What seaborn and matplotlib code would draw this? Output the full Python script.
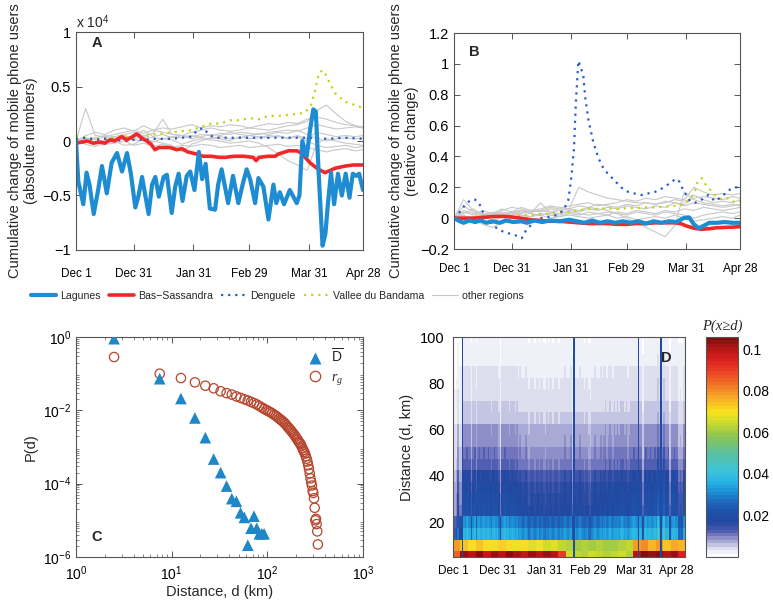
import numpy as np
import matplotlib
matplotlib.use("Agg")
import matplotlib.pyplot as plt
from matplotlib.colors import LinearSegmentedColormap
from matplotlib.lines import Line2D
import seaborn as sns

# ---------------- shared time axis (day 0 = Dec 1) ----------------
tick_days = [0, 30, 61, 90, 121, 149]
tick_names = ["Dec 1", "Dec 31", "Jan 31", "Feb 29", "Mar 31", "Apr 28"]

# ---------------- panel A: absolute change (units of 10^4 users) ----------------
lag_a_days = [0, 1.2, 3.8, 5.5, 7, 9.2, 11.5, 13.5, 16, 18.5, 21.3, 23.9, 26.5, 28.5, 30.8, 32.5,
              34.3, 37.7, 39.5, 41.2, 43, 45.5, 47.2, 49.7, 51.5, 53.3, 55.3, 57.5, 59.3, 61.5,
              63.8, 65.5, 67.3, 69.5, 72.2, 73.8, 75.6, 79, 81.5, 84.3, 86.5, 88.6, 90.4, 93,
              94.7, 97.3, 99.9, 102.5, 104, 105.8, 108, 111, 114.6, 116, 117.5, 119.8, 121.5,
              123.2, 124.5, 126, 128, 129.5, 130.8, 132.4, 134, 136, 138, 140, 142, 143.7, 145.5,
              147, 149]
lag_a_vals = [0.0, -0.37, -0.58, -0.29, -0.4, -0.67, -0.45, -0.23, -0.48, -0.2, -0.11, -0.28, -0.11,
              -0.3, -0.61, -0.5, -0.33, -0.67, -0.4, -0.33, -0.51, -0.33, -0.31, -0.66, -0.42, -0.3,
              -0.55, -0.32, -0.28, -0.45, -0.1, -0.35, -0.21, -0.62, -0.63, -0.4, -0.26, -0.57, -0.32,
              -0.57, -0.4, -0.26, -0.35, -0.57, -0.34, -0.42, -0.72, -0.4, -0.57, -0.47, -0.58, -0.45,
              -0.57, -0.5, 0.0, -0.14, 0.1, 0.29, 0.27, -0.3, -0.96, -0.85, -0.57, -0.29, -0.58, -0.3,
              -0.5, -0.3, -0.52, -0.3, -0.32, -0.3, -0.45]

bas_a_days = [0, 3, 6, 9, 12.5, 15, 17.6, 20, 23.7, 26.3, 28.5, 31.5, 34, 36.7, 39, 41, 43, 46, 48.8,
              52.3, 55, 58, 62.7, 66, 70, 74.6, 77.4, 82, 87, 92, 93.5, 95, 100, 103.4, 105, 110.3,
              114.6, 117, 119, 121.5, 125.8, 129.3, 132, 134.5, 139.7, 144, 149]
bas_a_vals = [-0.02, -0.01, 0.0, -0.02, -0.01, -0.02, 0.01, 0.0, 0.04, 0.01, 0.03, 0.065, 0.03, 0.0,
              -0.03, -0.08, -0.06, -0.06, -0.06, -0.08, -0.07, -0.1, -0.12, -0.14, -0.14, -0.15, -0.15,
              -0.14, -0.14, -0.15, -0.18, -0.15, -0.14, -0.14, -0.12, -0.09, -0.09, -0.11, -0.15, -0.2,
              -0.26, -0.29, -0.27, -0.25, -0.23, -0.22, -0.22]

den_a_days = [0, 5, 10, 15, 20, 25, 30, 35, 40, 45, 50, 55, 60, 63, 66, 69, 72, 80, 90, 100, 110,
              120, 130, 140, 149]
den_a_vals = [0.02, 0.03, 0.01, 0.02, 0.01, 0.0, 0.01, 0.01, 0.02, 0.02, 0.02, 0.03, 0.04, 0.1, 0.12,
              0.06, 0.03, 0.03, 0.03, 0.03, 0.03, 0.03, 0.02, 0.03, 0.02]

val_a_days = [0, 5, 10, 15, 20, 25, 30, 35, 40, 45, 50, 55, 60, 65, 70, 75, 80, 85, 90, 95, 100, 105,
              110, 115, 119, 122, 124, 126, 128, 130, 132, 134.5, 137, 139.7, 143, 146.6, 149]
val_a_vals = [0.05, 0.03, 0.02, 0.03, 0.03, 0.04, 0.03, 0.04, 0.06, 0.07, 0.08, 0.09, 0.1, 0.13, 0.16,
              0.16, 0.19, 0.19, 0.21, 0.2, 0.23, 0.23, 0.24, 0.25, 0.26, 0.33, 0.45, 0.62, 0.65, 0.6,
              0.52, 0.44, 0.4, 0.36, 0.34, 0.32, 0.3]

# other regions, sampled every 5 days
other_days = [0, 5, 10, 15, 20, 25, 30, 35, 40, 45, 50, 55, 60, 65, 70, 75, 80, 85, 90, 95, 100,
              105, 110, 115, 120, 125, 130, 135, 140, 145, 149]
other_a = [
    [0, 0.3, 0.05, 0.04, 0.06, 0.08, 0.1, 0.07, 0.1, 0.08, 0.06, 0.05, 0.08, 0.1, 0.12, 0.1, 0.09,
     0.1, 0.12, 0.11, 0.1, 0.12, 0.14, 0.15, 0.18, 0.28, 0.33, 0.25, 0.18, 0.14, 0.12],
    [0, 0.02, 0.03, 0.05, 0.04, 0.06, 0.08, 0.05, 0.07, 0.2, 0.06, 0.05, 0.04, 0.06, 0.05, 0.07,
     0.06, 0.08, 0.07, 0.06, 0.08, 0.09, 0.1, 0.09, 0.12, 0.15, 0.13, 0.11, 0.12, 0.13, 0.12],
    [0, 0.01, -0.02, 0.0, 0.02, 0.03, 0.01, 0.0, -0.01, 0.02, 0.01, -0.03, 0.0, 0.02, 0.01, 0.0,
     -0.02, -0.01, 0.0, -0.02, -0.06, -0.12, -0.18, -0.22, -0.27, -0.02, 0.02, 0.0, -0.02, -0.03, -0.04],
    [0, -0.03, -0.05, -0.02, 0.0, -0.04, -0.03, 0.02, 0.0, -0.02, -0.04, -0.1, -0.03, 0.0, 0.03,
     0.02, 0.0, 0.04, 0.02, 0.03, 0.05, 0.04, 0.03, 0.05, 0.02, 0.08, 0.06, 0.04, 0.05, 0.04, 0.05],
    [0, 0.05, 0.08, 0.06, 0.1, 0.12, 0.09, 0.14, 0.1, 0.12, 0.11, 0.13, 0.15, 0.12, 0.14, 0.13,
     0.15, 0.14, 0.12, 0.14, 0.16, 0.15, 0.17, 0.16, 0.2, 0.22, 0.2, 0.17, 0.15, 0.14, 0.13],
    [0, -0.01, 0.02, -0.03, -0.02, 0.0, -0.04, -0.02, -0.05, -0.03, -0.06, -0.04, -0.05, -0.03,
     -0.04, -0.06, -0.05, -0.04, -0.06, -0.05, -0.04, -0.03, -0.05, -0.04, -0.06, -0.08, -0.1,
     -0.08, -0.07, -0.09, -0.08],
    [0, 0.03, 0.01, 0.04, 0.02, 0.05, 0.03, 0.1, 0.04, 0.06, 0.03, 0.05, 0.02, 0.04, 0.06, 0.05,
     0.08, 0.06, 0.05, 0.07, 0.06, 0.08, 0.07, 0.1, 0.06, 0.02, 0.0, 0.02, 0.03, 0.02, 0.03],
    [0, 0.0, -0.02, 0.01, 0.03, 0.01, 0.02, 0.04, 0.03, 0.02, 0.04, 0.03, 0.05, 0.03, 0.02, 0.04,
     0.02, 0.03, 0.05, 0.04, 0.03, 0.05, 0.02, 0.04, 0.0, -0.04, -0.06, -0.05, -0.04, -0.06, -0.05],
]

# ---------------- panel B: relative change ----------------
lag_b_days = [0, 3, 5, 8, 11, 14, 17, 20, 24, 27, 31, 35, 38, 42, 46, 50, 55, 60, 64, 68, 72, 76,
              80, 84, 88, 92, 96, 100, 104, 108, 112, 116, 119.5, 122.5, 125, 127.5, 130, 133, 137,
              141, 145, 149]
lag_b_vals = [0.0, -0.02, -0.03, -0.015, -0.025, -0.015, -0.03, -0.02, -0.03, -0.015, -0.025, -0.02,
              -0.03, -0.015, -0.025, -0.015, -0.02, -0.01, -0.02, -0.03, -0.015, -0.03, -0.02, -0.03,
              -0.02, -0.03, -0.02, -0.035, -0.02, -0.03, -0.02, -0.025, 0.0, 0.005, -0.04, -0.065,
              -0.05, -0.03, -0.03, -0.025, -0.03, -0.03]

bas_b_days = [0, 10, 15, 20, 25, 30, 35, 40, 45, 50, 55, 60, 65, 70, 75, 80, 85, 90, 95, 100, 105,
              110, 115, 118, 121, 125, 129, 133, 137, 141, 145, 149]
bas_b_vals = [0.0, 0.0, 0.005, 0.01, 0.012, 0.008, 0.0, -0.01, -0.015, -0.02, -0.02, -0.025, -0.03,
              -0.035, -0.035, -0.035, -0.04, -0.04, -0.035, -0.035, -0.03, -0.03, -0.03, -0.035,
              -0.05, -0.065, -0.072, -0.068, -0.062, -0.06, -0.058, -0.055]

den_b_days = [0, 3, 6, 9, 11, 13, 15, 18, 20.5, 23, 26, 29, 31.8, 35.3, 37.5, 39.7, 42, 45, 50,
              53.5, 57, 59.6, 61, 62.5, 63.5, 64.8, 66, 67.4, 68.3, 70, 72.6, 75, 77, 80, 84, 87,
              90.8, 94, 97.8, 101, 104.7, 108, 111.7, 115, 116.9, 119.5, 123, 125.7, 129, 132.5,
              136, 139.5, 143, 146, 149]
den_b_vals = [0.0, 0.04, 0.09, 0.12, 0.12, 0.1, 0.04, 0.0, -0.05, -0.07, -0.09, -0.1, -0.11, -0.13,
              -0.08, -0.05, -0.02, 0.0, 0.01, 0.02, 0.05, 0.12, 0.25, 0.45, 0.75, 1.02, 0.98, 0.92,
              0.79, 0.64, 0.49, 0.4, 0.34, 0.29, 0.24, 0.2, 0.17, 0.16, 0.15, 0.16, 0.17, 0.19, 0.22,
              0.25, 0.25, 0.18, 0.11, 0.1, 0.12, 0.15, 0.11, 0.14, 0.18, 0.2, 0.2]

val_b_days = [0, 5, 10, 15, 20, 25, 30, 35, 40, 45, 50, 55, 60, 65, 70, 75, 80, 85, 90, 95, 100,
              105, 110, 115, 120, 123, 125.6, 127, 129, 131, 133, 136, 139.5, 143, 146.5, 149]
val_b_vals = [0.01, 0.0, 0.01, 0.015, 0.01, 0.015, 0.01, 0.02, 0.02, 0.025, 0.03, 0.035, 0.04,
              0.05, 0.06, 0.06, 0.065, 0.06, 0.065, 0.065, 0.07, 0.07, 0.075, 0.08, 0.09, 0.12,
              0.18, 0.24, 0.26, 0.22, 0.19, 0.15, 0.12, 0.13, 0.1, 0.11]

other_b = [
    [0, 0.12, 0.05, 0.03, 0.02, 0.04, 0.03, 0.05, 0.04, 0.05, 0.04, 0.05, 0.06, 0.2, 0.17, 0.15,
     0.13, 0.12, 0.11, 0.1, 0.1, 0.09, 0.1, 0.12, 0.11, 0.13, 0.14, 0.13, 0.12, 0.14, 0.13],
    [0, 0.08, 0.04, 0.02, 0.03, 0.02, 0.04, 0.03, 0.05, 0.04, 0.06, 0.05, 0.06, 0.05, 0.07, 0.06,
     0.05, 0.03, 0.0, -0.03, -0.06, -0.09, -0.12, -0.05, 0.17, 0.12, 0.1, 0.09, 0.08, 0.09, 0.08],
    [0, 0.03, 0.06, 0.02, -0.02, 0.01, 0.04, 0.05, 0.03, 0.1, 0.04, 0.03, 0.05, 0.04, 0.06, 0.05,
     0.07, 0.06, 0.08, 0.07, 0.06, 0.08, 0.07, 0.1, 0.09, 0.15, 0.12, 0.1, 0.11, 0.1, 0.12],
    [0, 0.02, -0.01, -0.04, -0.06, -0.03, 0.0, 0.02, 0.01, 0.03, 0.02, 0.01, 0.03, 0.02, 0.04,
     0.03, 0.02, 0.04, 0.03, 0.05, 0.04, 0.03, 0.05, 0.04, 0.06, 0.05, 0.07, 0.06, 0.05, 0.06, 0.07],
    [0, 0.05, 0.03, 0.01, 0.02, 0.05, 0.07, 0.06, 0.04, 0.05, 0.07, 0.06, 0.08, 0.09, 0.1, 0.08,
     0.09, 0.1, 0.12, 0.11, 0.13, 0.12, 0.14, 0.13, 0.12, 0.2, 0.17, 0.15, 0.16, 0.15, 0.16],
    [0, -0.01, 0.01, 0.0, 0.02, 0.01, 0.03, 0.02, 0.01, 0.02, 0.0, 0.01, 0.02, 0.01, 0.0, 0.01,
     0.02, 0.0, 0.01, -0.01, 0.0, 0.01, 0.0, 0.02, 0.0, -0.02, -0.01, 0.0, 0.01, 0.0, 0.02],
    [0, 0.04, 0.02, 0.05, 0.03, 0.06, 0.04, 0.07, 0.05, 0.06, 0.08, 0.07, 0.06, 0.08, 0.07, 0.09,
     0.08, 0.07, 0.09, 0.08, 0.1, 0.09, 0.11, 0.1, 0.08, 0.1, 0.09, 0.08, 0.07, 0.08, 0.09],
    [0, 0.01, 0.0, 0.02, 0.04, 0.03, 0.02, 0.04, 0.03, 0.02, 0.03, 0.02, 0.04, 0.03, 0.02, 0.03,
     0.04, 0.03, 0.02, 0.04, 0.03, 0.02, 0.04, 0.03, 0.02, 0.0, 0.02, 0.03, 0.04, 0.03, 0.04],
]

# ---------------- panel C: distance distributions ----------------
dbar_km = [2.5, 7.5, 12.5, 17.5, 22.5, 27.5, 32.5, 37.5, 42.5, 47.5, 52.5, 57.5, 62.5, 67.5, 72.5,
           77.5, 82.5, 87.5, 92.5]
dbar_p = [0.9, 0.073, 0.021, 0.0062, 0.0018, 4.7e-4, 2.0e-4, 8.6e-5, 3.9e-5, 3.3e-5, 1.6e-5,
          1.2e-5, 2.1e-6, 6.1e-6, 1.3e-5, 6.1e-6, 4.3e-6, 4.3e-6, 4.3e-6]
rg_km = [2.5 + 5 * i for i in range(68)]
rg_p = [0.285, 0.1, 0.076, 0.058, 0.047, 0.040,
        0.0331, 0.0295, 0.0269, 0.024, 0.0219, 0.02, 0.0186, 0.017, 0.0158, 0.0145, 0.0132,
        0.012, 0.011,
        0.0102, 0.0095, 0.0089, 0.0083, 0.0076, 0.0071, 0.0066, 0.006, 0.0056, 0.0052, 0.0048,
        0.0044, 0.004, 0.0036, 0.0033, 0.003, 0.0028, 0.0025, 0.0023, 0.0021, 0.0019, 0.0017,
        0.0016, 0.0014, 0.0013, 0.0012, 0.00105, 0.00093, 0.00083, 0.00074, 0.00066, 0.00056,
        0.00048, 0.0004, 0.00032, 0.00025, 0.00019, 0.00014, 0.00011, 8.9e-5, 6.3e-5,
        5.6e-5, 4.0e-5, 2.2e-5, 1.0e-5, 1.1e-5, 7.9e-6, 5.0e-6, 2.2e-6]

# ---------------- panel D: P(x>=d) per day and distance band ----------------
dist_km = [5, 10, 15, 20, 25, 30, 35, 40, 45, 50, 55, 60, 65, 70, 75, 80, 85, 90, 95, 100]
# two lowest bands, one value per 5-day block
row5_blocks = [0.085, 0.104, 0.1, 0.105, 0.098, 0.104, 0.1, 0.106, 0.102, 0.098, 0.104, 0.1, 0.104,
               0.1, 0.09, 0.066, 0.064, 0.062, 0.066, 0.063, 0.062, 0.064, 0.066, 0.062, 0.1, 0.105,
               0.104, 0.106, 0.1, 0.104, 0.095]
row10_blocks = [0.078, 0.074, 0.07, 0.074, 0.071, 0.069, 0.072, 0.07, 0.068, 0.07, 0.067, 0.068,
                0.066, 0.067, 0.064, 0.062, 0.061, 0.062, 0.06, 0.062, 0.061, 0.06, 0.062, 0.064,
                0.078, 0.08, 0.076, 0.078, 0.074, 0.077, 0.075]
# typical level of the bands 15..100 km
band_level = [0.036, 0.031, 0.020, 0.019, 0.018, 0.016, 0.012, 0.011, 0.009, 0.0085, 0.006, 0.005,
              0.0045, 0.004, 0.0035, 0.003, 0.0025, 0.002]
# day-to-day shading of those bands (light streaks < 1)
day_shade = [0.4, 0.4, 0.45, 0.8, 0.5, 0.5, 1.0, 1.05, 1.0, 1.1,
             1.05, 1.0, 0.7, 1.0, 1.1, 0.8, 1.05, 1.1, 1.0, 1.05,
             1.1, 1.0, 1.05, 1.1, 1.0, 0.95, 1.05, 1.1, 1.0, 1.05,
             0.9, 0.55, 1.0, 1.05, 1.1, 1.0, 1.05, 0.95, 1.0, 1.05,
             1.0, 0.95, 1.0, 0.9, 0.95, 0.9, 0.85, 0.9, 0.95, 0.85,
             0.75, 0.85, 0.9, 0.85, 0.8, 0.85, 0.9, 0.8, 0.85, 0.9,
             0.8, 0.75, 0.85, 0.8, 0.9, 0.85, 0.8, 0.85, 0.9, 0.85,
             0.8, 0.9, 0.85, 0.9, 0.95, 0.9, 0.85, 0.9, 0.95, 0.6,
             1.0, 0.9, 0.85, 0.9, 0.95, 0.9, 0.85, 0.8, 0.85, 0.9,
             0.75, 0.7, 0.85, 0.9, 0.95, 0.9, 0.85, 0.9, 0.95, 0.9,
             0.95, 1.0, 0.9, 0.95, 1.0, 0.95, 0.9, 1.0, 0.95, 1.0,
             0.95, 1.0, 1.05, 1.0, 0.95, 1.0, 0.9, 0.95, 1.0, 1.05,
             1.1, 1.05, 1.0, 1.0, 1.05, 1.0, 0.6, 1.05, 1.1, 1.0,
             1.05, 1.1, 1.0, 1.05, 1.1, 1.0, 1.25, 1.1, 1.0, 1.05,
             1.25, 1.0, 1.05, 1.1, 0.6, 1.0, 1.05, 1.1, 1.0, 1.05,
             0.7, 0.75, 0.7, 1.0, 1.05]
dark_days = [6, 80, 123, 138]   # thin dark-blue lines through all bands
dark_level = 0.019

# colour map of panel D (white -> lavender -> jet)
cmap_stops = [0.0, 0.028, 0.057, 0.085, 0.113, 0.151, 0.198, 0.245, 0.292, 0.34, 0.396, 0.472,
              0.547, 0.613, 0.66, 0.717, 0.774, 0.849, 0.906, 0.953, 1.0]
cmap_colors = ["#ffffff", "#e4e4f2", "#b4b4dc", "#8484c4", "#4c5cb0", "#2348a0", "#1f50aa",
               "#1e66bc", "#1c8ed4", "#28b4e4", "#3ec4d6", "#5cc0a0", "#8cc454", "#cada2c",
               "#f8e41c", "#f8b428", "#f28028", "#ec4024", "#d8201e", "#b41616", "#801010"]

# ---------------- style ----------------
sns.set_style("ticks")
plt.rcParams["font.family"] = ["Liberation Sans", "DejaVu Sans"]
plt.rcParams["mathtext.fontset"] = "custom"
plt.rcParams["mathtext.rm"] = "Liberation Sans"
plt.rcParams["mathtext.it"] = "Liberation Serif:italic"
plt.rcParams["axes.edgecolor"] = "#555555"
plt.rcParams["axes.linewidth"] = 0.8
plt.rcParams["xtick.color"] = "#555555"
plt.rcParams["ytick.color"] = "#555555"
plt.rcParams["xtick.labelcolor"] = "black"
plt.rcParams["ytick.labelcolor"] = "black"

c_lag = "#1e8cd2"
c_bas = "#f02828"
c_den = "#2a5ccc"
c_val = "#c5d41a"
c_oth = "#c8c8c8"
dot = (0, (1, 2.2))

fig = plt.figure(figsize=(7.73, 6.04), dpi=100)
axA = fig.add_axes([0.0983, 0.5861, 0.3713, 0.3609])
axB = fig.add_axes([0.5873, 0.5877, 0.3700, 0.3576])
axC = fig.add_axes([0.0983, 0.0778, 0.3713, 0.3642])
axD = fig.add_axes([0.5860, 0.0778, 0.3001, 0.3642])
cax = fig.add_axes([0.9133, 0.0778, 0.0414, 0.3642])


def draw_series(ax, lag, bas, den, val, others, xpad):
    for vals in others:
        sns.lineplot(x=other_days, y=vals, ax=ax, color=c_oth, lw=0.8, estimator=None, sort=False)
    sns.lineplot(x=val[0], y=val[1], ax=ax, color=c_val, lw=1.6, linestyle=dot, estimator=None, sort=False)
    sns.lineplot(x=den[0], y=den[1], ax=ax, color=c_den, lw=1.6, linestyle=dot, estimator=None, sort=False)
    sns.lineplot(x=bas[0], y=bas[1], ax=ax, color=c_bas, lw=2.6, estimator=None, sort=False,
                 solid_joinstyle="round")
    sns.lineplot(x=lag[0], y=lag[1], ax=ax, color=c_lag, lw=3.0, estimator=None, sort=False,
                 solid_joinstyle="round")
    ax.set_xlim(0, 149)
    ax.set_xticks(tick_days)
    ax.set_xticklabels(tick_names, fontsize=8.5)
    ax.tick_params(direction="in", top=True, right=True, length=4, width=0.7)
    ax.tick_params(axis="y", labelsize=10.5)
    ax.tick_params(axis="x", pad=xpad)


def fmt(v):
    return ("%g" % v).replace("-", "\u2212")


# panel A
draw_series(axA, (lag_a_days, lag_a_vals), (bas_a_days, bas_a_vals), (den_a_days, den_a_vals),
            (val_a_days, val_a_vals), other_a, 13)
axA.set_ylim(-1, 1)
axA.set_yticks([-1, -0.5, 0, 0.5, 1])
axA.set_yticklabels([fmt(v) for v in [-1, -0.5, 0, 0.5, 1]])
axA.set_ylabel("Cumulative change of mobile phone users\n(absolute numbers)", fontsize=10.5,
               labelpad=3, linespacing=1.15)
axA.text(0.073, 0.95, "A", transform=axA.transAxes, fontsize=10.5, fontweight="bold",
         ha="center", va="center")
fig.text(76 / 773, 1 - 22 / 604, r"x 10$^{4}$", fontsize=10, ha="left", va="center")

# panel B
draw_series(axB, (lag_b_days, lag_b_vals), (bas_b_days, bas_b_vals), (den_b_days, den_b_vals),
            (val_b_days, val_b_vals), other_b, 10)
b_ticks = [-0.2, 0, 0.2, 0.4, 0.6, 0.8, 1, 1.2]
axB.set_ylim(-0.2, 1.2)
axB.set_yticks(b_ticks)
axB.set_yticklabels([fmt(v) for v in b_ticks])
axB.set_ylabel("Cumulative change of mobile phone users\n(relative change)", fontsize=10.5,
               labelpad=1, linespacing=1.15)
axB.text(0.07, 0.912, "B", transform=axB.transAxes, fontsize=10.5, fontweight="bold",
         ha="center", va="center")

# shared legend of A/B
leg_handles = [Line2D([], [], color=c_lag, lw=3.0),
               Line2D([], [], color=c_bas, lw=2.6),
               Line2D([], [], color=c_den, lw=1.6, linestyle=dot),
               Line2D([], [], color=c_val, lw=1.6, linestyle=dot),
               Line2D([], [], color=c_oth, lw=0.8)]
leg_labels = ["Lagunes", "Bas\u2212Sassandra", "Denguele", "Vallee du Bandama", "other regions"]
fig.legend(leg_handles, leg_labels, loc="center", bbox_to_anchor=(277 / 773, 1 - 296 / 604),
           ncol=5, frameon=False, fontsize=7.6, handlelength=2.4, columnspacing=0.8,
           handletextpad=0.35, borderpad=0.1)

# panel C
sns.scatterplot(x=dbar_km, y=dbar_p, ax=axC, marker="^", s=70, color="#1f86c8", edgecolor="none",
                zorder=3)
sns.scatterplot(x=rg_km, y=rg_p, ax=axC, marker="o", s=45, facecolor="none", edgecolor="#b5452c",
                linewidth=0.9, zorder=2)
axC.set_xscale("log")
axC.set_yscale("log")
axC.set_xlim(1, 1000)
axC.set_ylim(1e-6, 1)
axC.set_yticks([1e-6, 1e-4, 1e-2, 1e0])
axC.tick_params(which="both", direction="in", top=True, right=True, labelsize=10)
axC.tick_params(which="major", length=4, width=0.7)
axC.tick_params(which="minor", length=2, width=0.5)
axC.tick_params(axis="x", pad=5)
axC.set_xlabel("Distance, d (km)", fontsize=10.5, labelpad=2)
axC.set_ylabel("P(d)", fontsize=10.5)
axC.text(0.073, 0.09, "C", transform=axC.transAxes, fontsize=10.5, fontweight="bold",
         ha="center", va="center")
c_handles = [Line2D([], [], marker="^", linestyle="none", markersize=9, color="#1f86c8", mec="none"),
             Line2D([], [], marker="o", linestyle="none", markersize=7.5, mfc="none", mec="#b5452c",
                    mew=0.9)]
axC.legend(c_handles, [r"$\overline{\mathrm{D}}$", r"$r_g$"], loc="upper right",
           bbox_to_anchor=(0.96, 0.99), frameon=False, fontsize=10, handletextpad=0.2,
           labelspacing=0.3, borderaxespad=0.2)

# panel D
n_days = len(day_shade)
grid = np.zeros((len(dist_km), n_days))
grid[0] = [row5_blocks[d // 5] for d in range(n_days)]
grid[1] = [row10_blocks[d // 5] for d in range(n_days)]
grid[2:] = np.outer(band_level, day_shade)
grid[:, dark_days] = dark_level

d_cmap = LinearSegmentedColormap.from_list("pxd", list(zip(cmap_stops, cmap_colors)), N=64)
x_edges = np.arange(n_days + 1)
y_edges = np.append(np.array(dist_km) - 2.5, dist_km[-1] + 2.5)
mesh = axD.pcolormesh(x_edges, y_edges, grid, cmap=d_cmap, vmin=0, vmax=0.106, shading="flat")
axD.set_xlim(0, 154.5)
axD.set_ylim(5, 100)
axD.set_xticks(tick_days)
axD.set_xticklabels(tick_names, fontsize=8.5)
axD.set_yticks([20, 40, 60, 80, 100])
axD.tick_params(axis="y", labelsize=10.5)
axD.tick_params(length=0, pad=6)
axD.set_ylabel("Distance (d, km)", fontsize=10.5)
axD.text(0.918, 0.906, "D", transform=axD.transAxes, fontsize=10.5, fontweight="bold",
         ha="center", va="center")

cb = fig.colorbar(mesh, cax=cax, ticks=[0.02, 0.04, 0.06, 0.08, 0.1])
cb.ax.set_yticklabels(["0.02", "0.04", "0.06", "0.08", "0.1"])
cb.ax.tick_params(direction="in", length=3, width=0.6, labelsize=10, left=True, right=True)
cb.outline.set_edgecolor("#555555")
cb.outline.set_linewidth(0.8)
fig.text(722 / 773, 1 - 326 / 604, "P(x\u2265d)", fontsize=10.5, style="italic",
         family=["Liberation Serif", "DejaVu Serif"], ha="center", va="center")

fig.savefig("out.png", dpi=100)
